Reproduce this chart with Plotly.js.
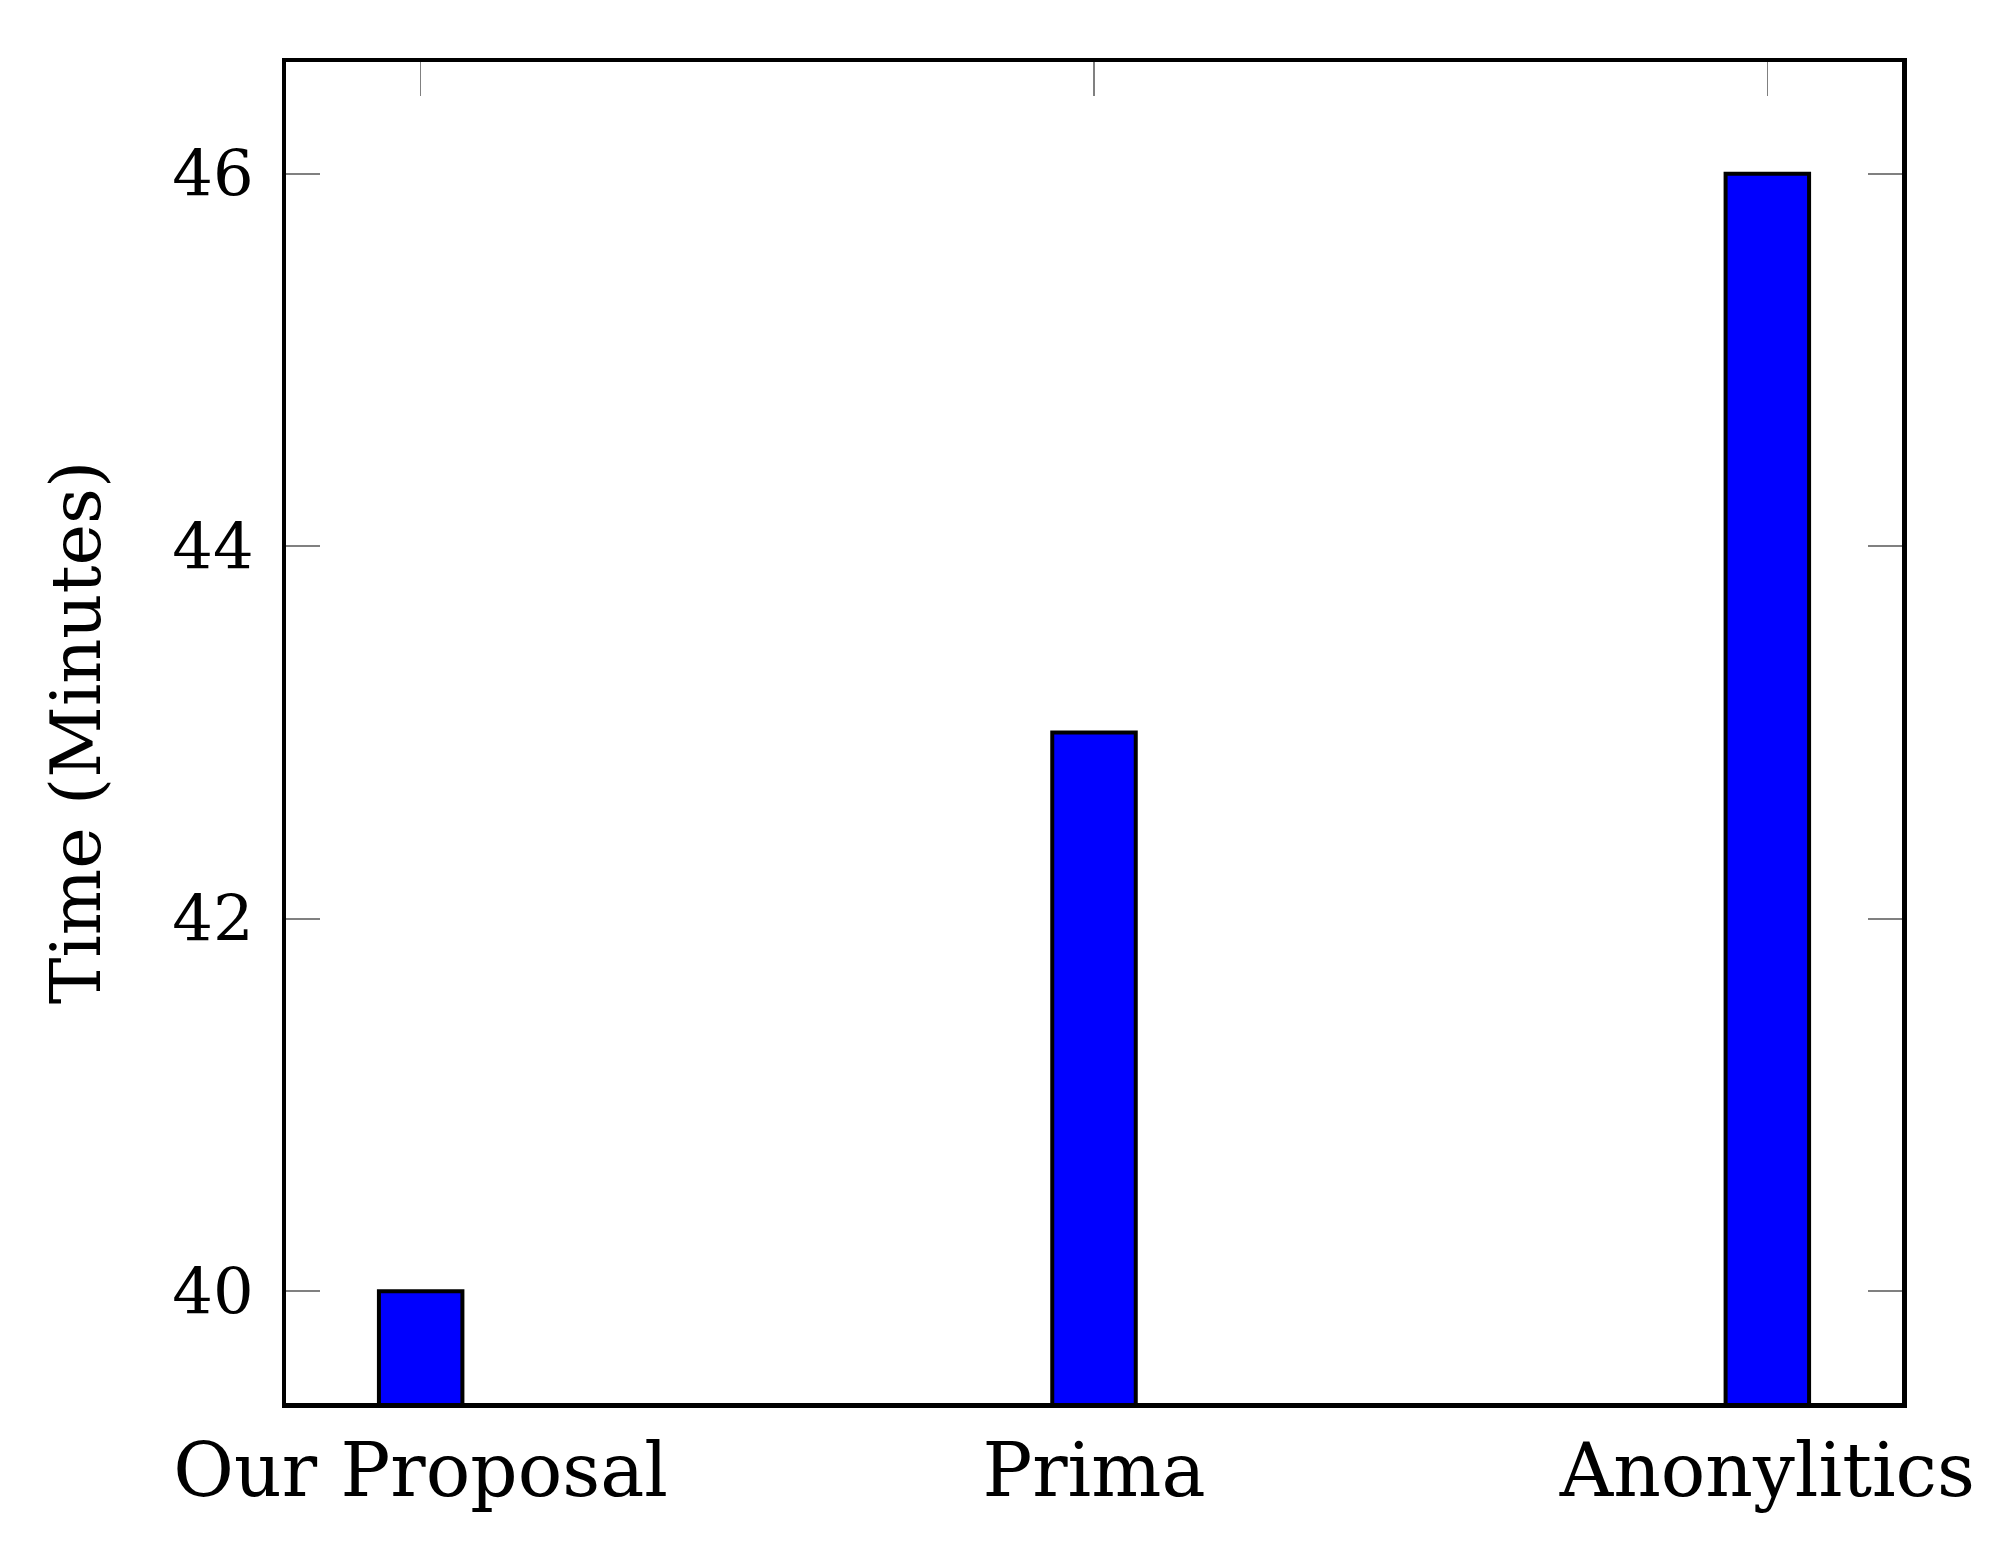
<!DOCTYPE html>
<html>
<head>
<meta charset="utf-8">
<script src="https://cdn.plot.ly/plotly-3.0.1.min.js"></script>
<style>
  html, body { margin: 0; padding: 0; background: #ffffff; }
  #chart { width: 2010px; height: 1554px; }
</style>
</head>
<body>
<div id="chart"></div>
<script>
// ---- data ----
const categories = ["Our Proposal", "Prima", "Anonylitics"];
const timeMinutes = [40, 43, 46];
const yTickValues = [40, 42, 44, 46];
const yTitle = "Time (Minutes)";

const FONT = "DejaVu Serif, serif";

const trace = {
  type: "bar",
  x: categories,
  y: timeMinutes,
  width: 0.124,
  marker: { color: "#0000ff", line: { color: "#000000", width: 4 } },
  hoverinfo: "skip",
  showlegend: false
};

const layout = {
  width: 2010,
  height: 1554,
  margin: { l: 286, r: 108, t: 62, b: 151, pad: 0 },
  paper_bgcolor: "#ffffff",
  plot_bgcolor: "#ffffff",
  showlegend: false,
  font: { family: FONT, color: "#000000" },
  xaxis: {
    type: "category",
    categoryarray: categories,
    range: [-0.2, 2.2],
    showline: true, mirror: "allticks", linecolor: "#000000", linewidth: 4.5,
    ticks: "inside", ticklen: 34, tickwidth: 1.6, tickcolor: "#808080",
    layer: "below traces",
    showgrid: false, zeroline: false,
    tickfont: { family: FONT, size: 74, color: "#000000" },
    ticklabelstandoff: 0
  },
  yaxis: {
    range: [39.4, 46.6],
    tickvals: yTickValues,
    ticktext: yTickValues.map(String),
    showline: true, mirror: "allticks", linecolor: "#000000", linewidth: 4.5,
    ticks: "inside", ticklen: 34, tickwidth: 1.6, tickcolor: "#808080",
    showgrid: false, zeroline: false,
    tickfont: { family: FONT, size: 64, color: "#000000" },
    ticklabelstandoff: 15,
    title: { text: yTitle, font: { family: FONT, size: 70, color: "#000000" }, standoff: 50 }
  }
};

Plotly.newPlot("chart", [trace], layout, { displayModeBar: false, staticPlot: true });
</script>
</body>
</html>
